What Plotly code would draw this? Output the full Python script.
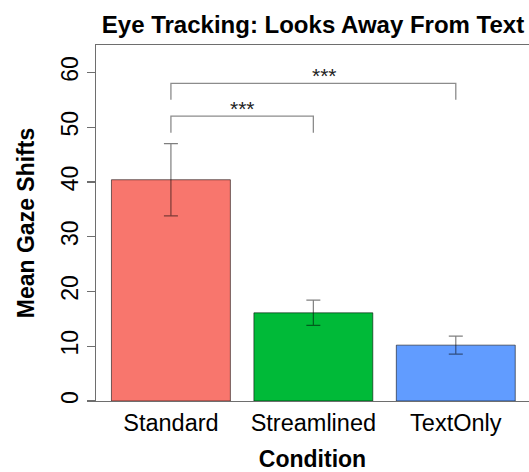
import plotly.graph_objects as go

# Data
categories = ["Standard", "Streamlined", "TextOnly"]
means = [40.4, 16.1, 10.2]
errors = [6.6, 2.3, 1.65]
bar_colors = ["#F8766D", "#00BA38", "#619CFF"]
y_ticks = [0, 10, 20, 30, 40, 50, 60]

# Significance brackets (from category index, to category index, height, label)
bracket_from = [0, 0]
bracket_to = [1, 2]
bracket_height = [52, 58]
bracket_drop = 3
bracket_labels = ["***", "***"]
bracket_label_shift = [0.0, 0.08]

FONT = "Liberation Sans, Arial, Helvetica, sans-serif"
GRAY = "#6e6e6e"

idx = list(range(len(categories)))

fig = go.Figure()
fig.add_trace(go.Bar(
    x=idx, y=means,
    marker=dict(color=bar_colors, line=dict(color="rgba(0,0,0,0.55)", width=1)),
    error_y=dict(type="data", array=errors, visible=True,
                 color="rgba(0,0,0,0.5)", thickness=1.2, width=7),
    showlegend=False, hoverinfo="skip",
))

for a, b, h in zip(bracket_from, bracket_to, bracket_height):
    fig.add_trace(go.Scatter(
        x=[a, a, b, b], y=[h - bracket_drop, h, h, h - bracket_drop],
        mode="lines", line=dict(color="#8c8c8c", width=1.3),
        showlegend=False, hoverinfo="skip",
    ))

for a, b, h, lab, s in zip(bracket_from, bracket_to, bracket_height, bracket_labels, bracket_label_shift):
    fig.add_annotation(
        x=(a + b) / 2 + s, y=h, text=lab, showarrow=False,
        yanchor="bottom", yshift=-5.5,
        font=dict(family=FONT, size=21, color="#222222"),
    )

fig.update_layout(
    width=529, height=472, autosize=False,
    margin=dict(l=96, r=0, t=45, b=71, autoexpand=False),
    paper_bgcolor="white", plot_bgcolor="white",
    bargap=0.165,
    font=dict(family=FONT, size=23, color="black"),
    title=dict(text="Eye Tracking: Looks Away From Text",
               x=313 / 529, xanchor="center", xref="container",
               y=1 - 25 / 472, yanchor="middle", yref="container",
               automargin=False,
               font=dict(family=FONT, size=24, color="black", weight="bold")),
)

fig.update_xaxes(
    range=[-0.526, 2.514], tickvals=idx, ticktext=categories,
    showline=True, mirror=True, linecolor=GRAY, linewidth=1.3,
    ticks="", showgrid=False, zeroline=False, automargin=False,
    tickfont=dict(family=FONT, size=23.5, color="black"),
    title=dict(text="Condition", standoff=20,
               font=dict(family=FONT, size=23, color="black", weight="bold")),
)
fig.update_yaxes(
    range=[0, 65], tickvals=y_ticks,
    showline=True, mirror=False, linecolor=GRAY, linewidth=1.3,
    ticks="outside", ticklen=8, tickcolor=GRAY, tickwidth=1.3,
    tickangle=-90, showgrid=False, zeroline=False, automargin=False,
    tickfont=dict(family=FONT, size=23, color="black"),
    title=dict(text="Mean Gaze Shifts", standoff=15,
               font=dict(family=FONT, size=23, color="black", weight="bold")),
)

fig.write_html("out.html",
               config={"displayModeBar": False, "staticPlot": True},
               post_script="document.body.style.margin='0';document.body.style.overflow='hidden';")
